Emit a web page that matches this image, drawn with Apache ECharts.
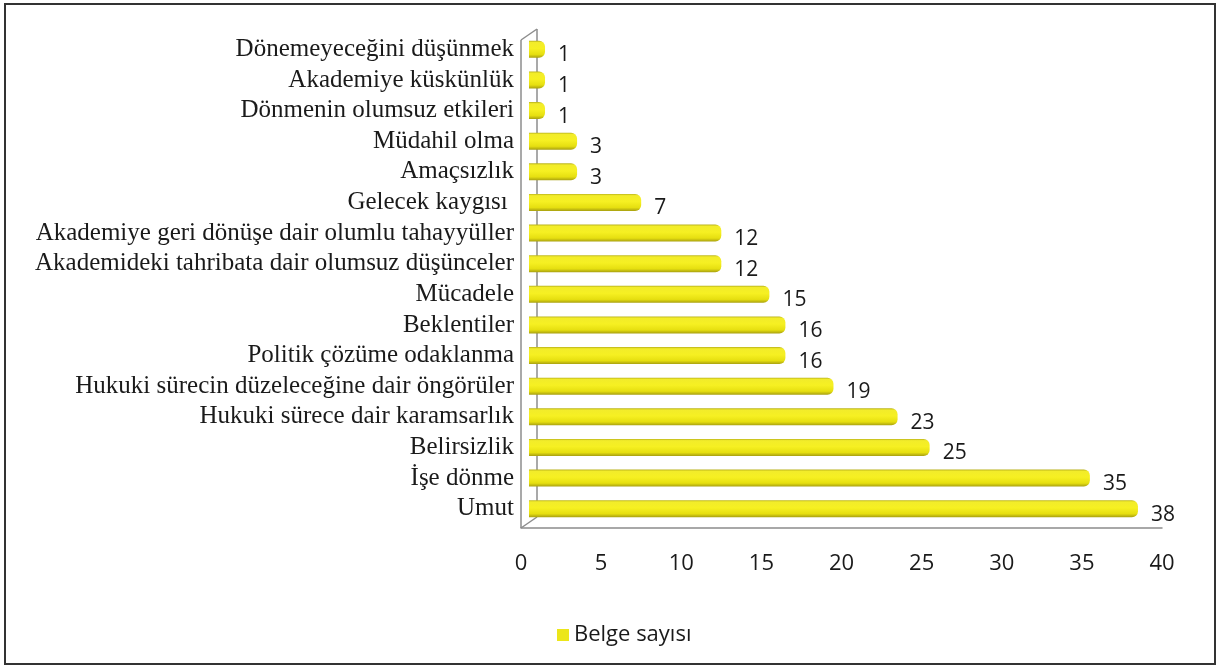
<!DOCTYPE html>
<html>
<head>
<meta charset="utf-8">
<script src="https://cdn.jsdelivr.net/npm/echarts@6/dist/echarts.min.js"></script>
<style>
  html, body { margin: 0; padding: 0; background: #fff; }
  #chart { width: 1219px; height: 668px; }
</style>
</head>
<body>
<div id="chart"></div>
<script>
// Categories, top to bottom
const categories = [
  'Dönemeyeceğini düşünmek',
  'Akademiye küskünlük',
  'Dönmenin olumsuz etkileri',
  'Müdahil olma',
  'Amaçsızlık',
  'Gelecek kaygısı ',
  'Akademiye geri dönüşe dair olumlu tahayyüller',
  'Akademideki tahribata dair olumsuz düşünceler',
  'Mücadele',
  'Beklentiler',
  'Politik çözüme odaklanma',
  'Hukuki sürecin düzeleceğine dair öngörüler',
  'Hukuki sürece dair karamsarlık',
  'Belirsizlik',
  'İşe dönme',
  'Umut'
];
// Document counts per category
const belgeSayisi = [1, 1, 1, 3, 3, 7, 12, 12, 15, 16, 16, 19, 23, 25, 35, 38];
const seriesName = 'Belge sayısı';
const axisMin = 0, axisMax = 40, axisStep = 5;

const serif = '"Liberation Serif", "Times New Roman", serif';
const sans = '"Open Sans", "Liberation Sans", sans-serif';
const yellow = '#ece61a';

const chart = echarts.init(document.getElementById('chart'));

// cylinder-like shading across the bar thickness
const barFill = new echarts.graphic.LinearGradient(0, 0, 0, 1, [
  { offset: 0, color: '#b9b21a' },
  { offset: 0.1, color: '#f2ec2a' },
  { offset: 0.45, color: '#f6f022' },
  { offset: 0.8, color: '#e6df10' },
  { offset: 1, color: '#a8a010' }
]);

chart.setOption({
  animation: false,
  backgroundColor: '#fff',
  legend: {
    data: [{ name: seriesName, itemStyle: { color: yellow } }],
    left: 552, top: 619,
    icon: 'rect', itemWidth: 12, itemHeight: 12, itemGap: 8,
    textStyle: { fontFamily: sans, fontSize: 22, color: '#1a1a1a' }
  },
  grid: [
    { left: 529, right: 49, top: 34, bottom: 144, containLabel: false },
    { left: 521, right: 57, top: 34, bottom: 140, containLabel: false }
  ],
  xAxis: [
    { gridIndex: 0, type: 'value', min: axisMin, max: axisMax, interval: axisStep,
      show: false, splitLine: { show: false } },
    { gridIndex: 1, type: 'value', min: axisMin, max: axisMax, interval: axisStep,
      axisLine: { show: true, lineStyle: { color: '#8c8c8c', width: 1.5 } },
      axisTick: { show: false },
      splitLine: { show: false },
      axisLabel: { margin: 25, fontFamily: sans, fontSize: 22, color: '#1a1a1a' } }
  ],
  yAxis: [
    { gridIndex: 0, type: 'category', data: categories, inverse: true,
      axisLine: { show: false }, axisTick: { show: false },
      axisLabel: { interval: 0, margin: 15, fontFamily: serif, fontSize: 25, color: '#1a1a1a' } },
    { gridIndex: 1, type: 'value', show: false }
  ],
  series: [
    {
      name: seriesName,
      type: 'bar',
      xAxisIndex: 0, yAxisIndex: 0,
      data: belgeSayisi,
      barWidth: 17,
      itemStyle: { color: barFill, borderRadius: [0, 6, 6, 0] },
      label: {
        show: true, position: 'right', distance: 13, offset: [0, 6],
        fontFamily: sans, fontSize: 21, color: '#1a1a1a'
      }
    },
    { type: 'scatter', xAxisIndex: 1, yAxisIndex: 1, data: [], silent: true }
  ]
});

// 3D frame: side wall edges and floor diagonal, placed from the axis scale
function drawFrame() {
  const x0 = chart.convertToPixel({ xAxisIndex: 1 }, axisMin);
  const rect = chart.getModel().getComponent('grid', 1).coordinateSystem.getRect();
  const bottom = rect.y + rect.height;
  const dx = 16, dy = -11;
  const frontTop = 40;
  const style = { stroke: '#8c8c8c', lineWidth: 1.5 };
  const line = (a, b, c, d) => ({ type: 'line', shape: { x1: a, y1: b, x2: c, y2: d }, style, silent: true });
  chart.setOption({
    graphic: [
      // outer border
      { type: 'rect', shape: { x: 5, y: 4, width: 1210, height: 660 },
        style: { fill: null, stroke: '#333', lineWidth: 2 }, silent: true, z: 100 },
      line(x0, frontTop, x0, bottom),
      line(x0, frontTop, x0 + dx, frontTop + dy),
      line(x0 + dx, frontTop + dy, x0 + dx, bottom + dy),
      line(x0, bottom, x0 + dx, bottom + dy)
    ]
  });
}
drawFrame();
</script>
</body>
</html>
